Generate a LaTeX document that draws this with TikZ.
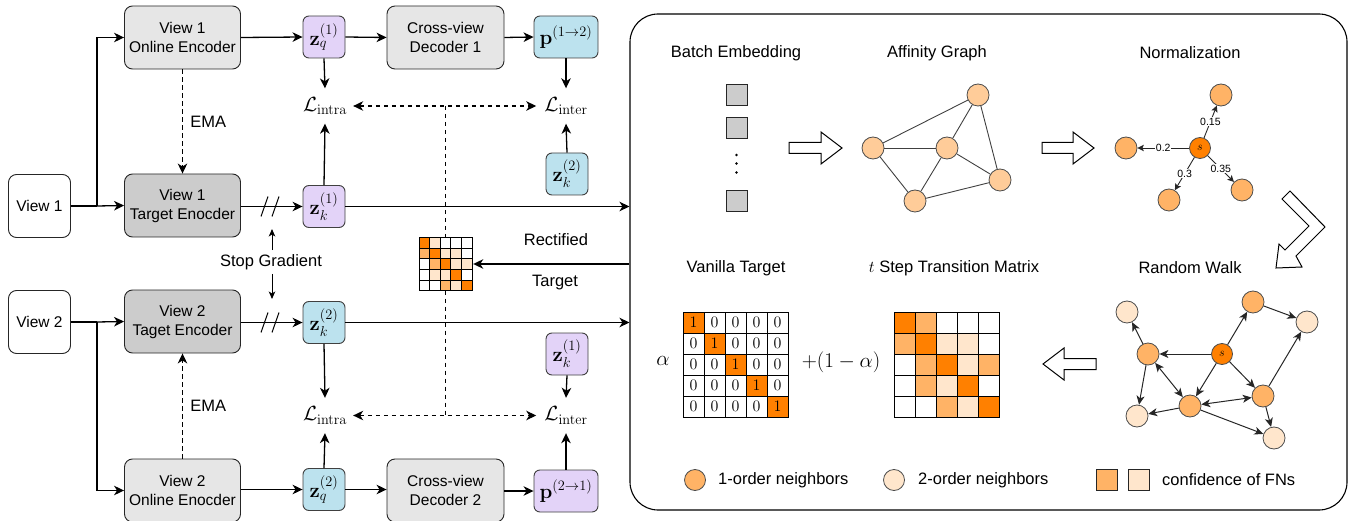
\RequirePackage{fix-cm}
\documentclass[tikz,border=0pt]{standalone}
\usepackage{amsmath}
\usepackage[no-math]{fontspec}
\setmainfont{Liberation Sans}
\usetikzlibrary{arrows.meta,calc}
\definecolor{lgray}{HTML}{E6E6E6}
\definecolor{dgray}{HTML}{CCCCCC}
\definecolor{purp}{HTML}{E3D3F8}
\definecolor{blu}{HTML}{BCE2EE}
\definecolor{oD}{HTML}{FF8000}
\definecolor{oM}{HTML}{FFB366}
\definecolor{oL}{HTML}{FFE6CC}
\definecolor{peach}{HTML}{FFCC99}
\newcommand\boxfont{\fontsize{15.5}{19}\selectfont}
\newcommand\ttlfont{\fontsize{16.5}{19}\selectfont}
\newcommand\mfont{\fontsize{20.5}{22}\selectfont}
\tikzset{
  encbox/.style={draw=black!85, rounded corners=8pt, minimum width=116pt, minimum height=63pt, align=center, font=\boxfont, line width=0.9pt, inner sep=0pt},
  viewbox/.style={draw=black!85, fill=white, rounded corners=8pt, minimum width=62pt, minimum height=63pt, font=\boxfont, line width=0.9pt, inner sep=0pt},
  zb/.style={draw=black!75, rounded corners=6pt, minimum width=42pt, minimum height=42pt, inner sep=0pt, font=\mfont, line width=0.9pt},
  lossnode/.style={minimum height=35pt, inner sep=0pt, font=\mfont},
  arr/.style={-{Stealth[length=10pt,width=9.5pt,inset=3pt]}, line width=1.3pt},
  darr/.style={{Stealth[length=10pt,width=9.5pt,inset=3pt]}-{Stealth[length=10pt,width=9.5pt,inset=3pt]}, line width=1.2pt, dash pattern=on 4.5pt off 3.5pt},
  dline/.style={line width=1.2pt, dash pattern=on 4.5pt off 3.5pt},
  ttl/.style={font=\ttlfont, inner sep=0pt},
  gnode/.style={circle, draw=black!70, line width=0.8pt, minimum size=22pt, inner sep=0pt},
  gedge/.style={draw=black!75, line width=0.9pt},
  narr/.style={-{Stealth[length=6.5pt,width=6.5pt,inset=1.5pt]}, line width=0.9pt, draw=black!85},
  rarr/.style={-{Stealth[length=9pt,width=8pt,inset=2.5pt]}, line width=1pt, draw=black!85},
  rbarr/.style={{Stealth[length=9pt,width=8pt,inset=2.5pt]}-{Stealth[length=9pt,width=8pt,inset=2.5pt]}, line width=1pt, draw=black!85},
  nlbl/.style={fill=white, inner sep=0.8pt, font=\fontsize{10.5}{12}\selectfont},
  hollow/.style={draw=black, fill=white, line width=1pt, line join=miter},
  cell/.style={draw=black, line width=0.9pt, minimum size=21pt, inner sep=0pt, font=\fontsize{16}{16}\selectfont},
}
\begin{document}
\begin{tikzpicture}[x=1pt,y=-1pt]
\useasboundingbox (0,0) rectangle (1354,521);

% ---------------- left part ----------------
\node[viewbox] (v1) at (39.5,206) {View 1};
\node[viewbox] (v2) at (39.5,322) {View 2};
\node[encbox, fill=lgray] (on1) at (182.5,37.5) {View 1\\Online Encoder};
\node[encbox, fill=dgray] (tg1) at (182.5,205.5) {View 1\\Target Enocder};
\node[encbox, fill=dgray] (tg2) at (182.5,321.5) {View 2\\Taget Encoder};
\node[encbox, fill=lgray] (on2) at (182.5,490.5) {View 2\\Online Enocder};
\node[encbox, fill=lgray, minimum width=117pt] (dec1) at (445.5,37.5) {Cross-view\\Decoder 1};
\node[encbox, fill=lgray, minimum width=117pt] (dec2) at (445.5,490.5) {Cross-view\\Decoder 2};

\node[zb, fill=purp] (zq1) at (324,37) {$\mathbf{z}_q^{(1)}$};
\node[zb, fill=purp] (zk1) at (324,206.5) {$\mathbf{z}_k^{(1)}$};
\node[zb, fill=blu, minimum width=64pt] (p12) at (566,37) {$\mathbf{p}^{(1\rightarrow2)}$};
\node[zb, fill=blu] (zk2r) at (567,174) {$\mathbf{z}_k^{(2)}$};
\node[zb, fill=blu] (zk2) at (324,322.5) {$\mathbf{z}_k^{(2)}$};
\node[zb, fill=purp] (zk1r) at (567,354) {$\mathbf{z}_k^{(1)}$};
\node[zb, fill=blu] (zq2) at (324,489.5) {$\mathbf{z}_q^{(2)}$};
\node[zb, fill=purp, minimum width=64pt] (p21) at (566,491) {$\mathbf{p}^{(2\rightarrow1)}$};

\node[lossnode] (li1) at (325,106) {$\mathcal{L}_{\mathrm{intra}}$};
\node[lossnode] (le1) at (566,106) {$\mathcal{L}_{\mathrm{inter}}$};
\node[lossnode] (li2) at (325,415.5) {$\mathcal{L}_{\mathrm{intra}}$};
\node[lossnode] (le2) at (566,415.5) {$\mathcal{L}_{\mathrm{inter}}$};

% right panel frame
\node[draw=black, rounded corners=28pt, line width=1.1pt, minimum width=717pt, minimum height=496pt, inner sep=0pt] (panel) at (988.5,262) {};

% input branches
\coordinate (b1) at (97,206);
\coordinate (b2) at (97,322);
\draw[line width=1.3pt] (v1.east) -- (b1);
\draw[arr] (b1) |- (on1.west);
\draw[arr] (b1) -- (tg1.west);
\draw[line width=1.3pt] (v2.east) -- (b2);
\draw[arr] (b2) |- (on2.west);
\draw[arr] (b2) -- (tg2.west);

% EMA
\draw[arr, line width=1.2pt, dash pattern=on 4.5pt off 3.5pt] (on1.south) -- node[right, font=\ttlfont, xshift=4pt]{EMA} (tg1.north);
\draw[arr, line width=1.2pt, dash pattern=on 4.5pt off 3.5pt] (on2.north) -- node[right, font=\ttlfont, xshift=4pt]{EMA} (tg2.south);

% top row
\draw[arr] (on1.east) -- (zq1.west);
\draw[arr] (zq1.east) -- (dec1.west);
\draw[arr] (dec1.east) -- (p12.west);
\draw[arr] (zq1.south) -- (li1.north);
\draw[arr] (zk1.north) -- (li1.south);
\draw[arr] (p12.south) -- (le1.north);
\draw[arr] (zk2r.north) -- (le1.south);
\draw[arr] (tg1.east |- zk1.west) -- (zk1.west);
\draw[arr] (zk1.east) -- (zk1.east -| panel.west);

% bottom row
\draw[arr] (on2.east |- zq2.west) -- (zq2.west);
\draw[arr] (zq2.east) -- (dec2.west |- zq2.east);
\draw[arr] (dec2.east |- p21.west) -- (p21.west);
\draw[arr] (zk2.south) -- (li2.north);
\draw[arr] (zq2.north) -- (li2.south);
\draw[arr] (zk1r.south) -- (le2.north);
\draw[arr] (p21.north) -- (le2.south);
\draw[arr] (tg2.east |- zk2.west) -- (zk2.west);
\draw[arr] (zk2.east) -- (zk2.east -| panel.west);

% stop-gradient slashes
\foreach \yy in {206.5,322.5}{
  \draw[line width=1pt] (261,\yy+10) -- (268,\yy-10);
  \draw[line width=1pt] (272,\yy+10) -- (279,\yy-10);
}
\node[font=\ttlfont, inner sep=0pt] (sg) at (271,262) {Stop Gradient};
\coordinate (sgu) at (272,229);
\coordinate (sgd) at (272,299);
\draw[-{Stealth[length=7.5pt,width=6.5pt,inset=2pt]}, line width=1pt] (sg.north -| sgu) ++(0,-4) -- (sgu);
\draw[-{Stealth[length=7.5pt,width=6.5pt,inset=2pt]}, line width=1pt] (sg.south -| sgd) ++(0,4) -- (sgd);

% rectified target matrix
\node[minimum size=53pt, inner sep=0pt] (mat) at (445.5,264) {};
\foreach \row [count=\i from 0] in {{oD,oL,white,white,white},{oM,oD,oL,oL,white},{white,oM,oD,oL,oL},{white,oL,oL,oD,white},{white,white,oM,oL,oD}}{
  \foreach \c [count=\j from 0] in \row {
    \draw[fill=\c, line width=0.7pt] (419+10.6*\j,237.5+10.6*\i) rectangle ++(10.6,10.6);
  }
}
\coordinate (dj1) at (445.5,106);
\coordinate (dj2) at (445.5,415.5);
\draw[darr] ([xshift=6pt]li1.east) -- ([xshift=-8pt]le1.west);
\draw[darr] ([xshift=6pt]li2.east) -- ([xshift=-8pt]le2.west);
\draw[dline] (dj1) -- (mat.north);
\draw[dline] (mat.south) -- (dj2);
\draw[arr] (panel.west |- mat.east) -- ([xshift=1pt]mat.east);
\node[font=\ttlfont, inner sep=0pt] (rect) at (556,240) {Rectified};
\node[font=\ttlfont, inner sep=0pt] (tgt) at (555,283) {Target};

% ---------------- right panel ----------------
\node[ttl] (t1) at (736,53) {Batch Embedding};
\node[ttl] (t2) at (937,53) {Affinity Graph};
\node[ttl] (t3) at (1190,53) {Normalization};
\node[ttl] (t4) at (736,268) {Vanilla Target};
\node[ttl] (t5) at (954,268) {$t$ Step Transition Matrix};
\node[ttl] (t6) at (1190,268) {Random Walk};

% batch embedding
\foreach \yy [count=\k] in {95,128,201}{
  \node[draw=black!85, fill=dgray, minimum size=21pt, inner sep=0pt, line width=0.9pt] (be\k) at (736.5,\yy) {};
}
\foreach \yy in {155,163.5,172.5}{ \fill (736.5,\yy) circle (1.4pt); }

% hollow arrows
\draw[hollow] (789,142.5) -- (821,142.5) -- (821,132) -- (842,148) -- (821,164) -- (821,153.5) -- (789,153.5) -- cycle;
\draw[hollow] (1042,142.5) -- (1073,142.5) -- (1073,132) -- (1094,148) -- (1073,164) -- (1073,153.5) -- (1042,153.5) -- cycle;
\draw[hollow] (1282,199) -- (1290,191) -- (1325,227) -- (1296,256) -- (1302,267) -- (1276,268) -- (1279,244) -- (1285,250) -- (1309,226) -- cycle;
\draw[hollow] (1096,358.5) -- (1064,358.5) -- (1064,348) -- (1043,364) -- (1064,380) -- (1064,369.5) -- (1096,369.5) -- cycle;

% affinity graph
\node[gnode, fill=peach] (aA) at (873,148) {};
\node[gnode, fill=peach] (aB) at (978,95) {};
\node[gnode, fill=peach] (aC) at (947,148) {};
\node[gnode, fill=peach] (aD) at (1000,180) {};
\node[gnode, fill=peach] (aE) at (915,201) {};
\draw[gedge] (aA) -- (aB);
\draw[gedge] (aA) -- (aC);
\draw[gedge] (aA) -- (aE);
\draw[gedge] (aC) -- (aB);
\draw[gedge] (aC) -- (aD);
\draw[gedge] (aC) -- (aE);
\draw[gedge] (aB) -- (aD);
\draw[gedge] (aE) -- (aD);

% normalization
\node[gnode, fill=oD, minimum size=21pt, font=\fontsize{12}{12}\selectfont] (ns) at (1200,148) {$s$};
\node[gnode, fill=oM] (nT) at (1221,95) {};
\node[gnode, fill=oM] (nL) at (1126,148) {};
\node[gnode, fill=oM] (nBL) at (1169,200) {};
\node[gnode, fill=oM] (nBR) at (1242,190) {};
\draw[narr] (ns) -- node[nlbl]{0.15} (nT);
\draw[narr] (ns) -- node[nlbl]{0.2} (nL);
\draw[narr] (ns) -- node[nlbl]{0.3} (nBL);
\draw[narr] (ns) -- node[nlbl]{0.35} (nBR);

% vanilla target
\node[font=\fontsize{21}{21}\selectfont, inner sep=0pt] (alpha) at (663,361) {$\alpha$};
\foreach \i in {0,...,4}{
  \foreach \j in {0,...,4}{
    \ifnum\i=\j \def\cc{oD}\def\nn{1}\else\def\cc{white}\def\nn{0}\fi
    \node[cell, fill=\cc] (v\i\j) at (693.5+21*\j,322.5+21*\i) {$\nn$};
  }
}
\node[font=\fontsize{21}{21}\selectfont, inner sep=0pt] (plus) at (841,362) {$+(1-\alpha)$};

% t-step transition matrix
\foreach \row [count=\i from 0] in {{oD,oM,white,white,white},{oM,oD,oL,oL,white},{white,oM,oD,oL,oM},{white,oM,oL,oD,white},{white,white,oM,oL,oD}}{
  \foreach \c [count=\j from 0] in \row {
    \node[cell, fill=\c] (t\i\j) at (904.5+21.2*\j,322.5+21*\i) {};
  }
}

% random walk
\node[gnode, fill=oD, minimum size=21pt, font=\fontsize{12}{12}\selectfont] (rs) at (1222,354) {$s$};
\node[gnode, fill=oM] (r1) at (1148,354) {};
\node[gnode, fill=oM] (r2) at (1190,406) {};
\node[gnode, fill=oM] (r3) at (1263,396) {};
\node[gnode, fill=oM] (r4) at (1253,302) {};
\node[gnode, fill=oL] (m1) at (1127,312) {};
\node[gnode, fill=oL] (m2) at (1137,416) {};
\node[gnode, fill=oL] (m3) at (1274,438) {};
\node[gnode, fill=oL] (m4) at (1307,322) {};
\draw[rarr] (rs) -- (r1);
\draw[rarr] (rs) -- (r2);
\draw[rarr] (rs) -- (r3);
\draw[rarr] (rs) -- (r4);
\draw[rarr] (r1) -- (m1);
\draw[rarr] (r1) -- (m2);
\draw[rbarr] (r1) -- (r2);
\draw[rbarr] (r2) -- (r3);
\draw[rarr] (r2) -- (m2);
\draw[rarr] (r2) -- (m3);
\draw[rarr] (r3) -- (m3);
\draw[rarr] (r3) -- (m4);
\draw[rarr] (r4) -- (m4);

% legend
\node[gnode, fill=oM, minimum size=21pt] (lg1) at (695,480) {};
\node[ttl, anchor=west] (lt1) at (718,480) {1-order neighbors};
\node[gnode, fill=oL, minimum size=21pt] (lg2) at (894,480) {};
\node[ttl, anchor=west] (lt2) at (918,480) {2-order neighbors};
\node[draw=black!85, fill=oM, minimum size=21pt, inner sep=0pt, line width=0.9pt] (lg3) at (1107,480) {};
\node[draw=black!85, fill=oL, minimum size=21pt, inner sep=0pt, line width=0.9pt] (lg4) at (1139,480) {};
\node[ttl, anchor=west] (lt3) at (1162,480) {confidence of FNs};
\end{tikzpicture}
\end{document}
